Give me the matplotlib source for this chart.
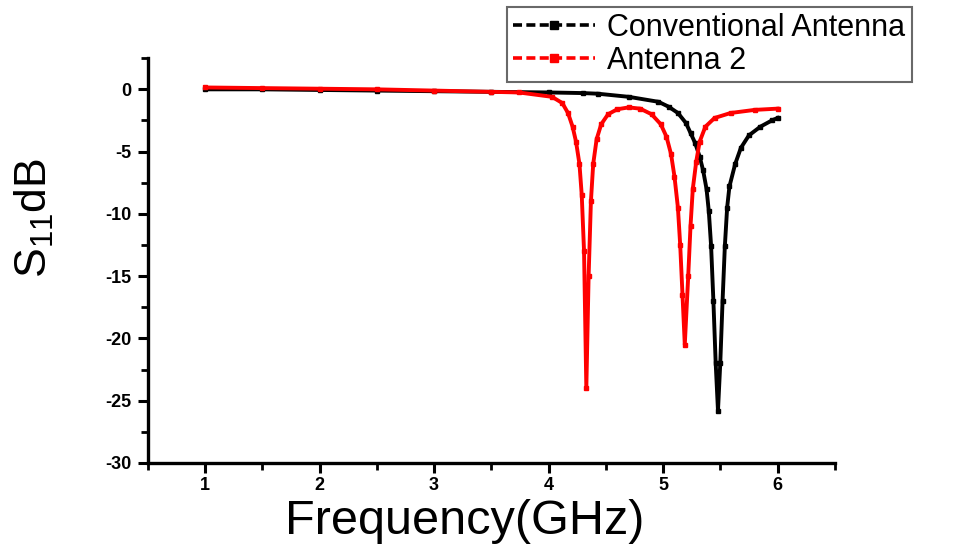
import numpy as np
import matplotlib
matplotlib.use('Agg')
import matplotlib.pyplot as plt
from matplotlib.lines import Line2D
from matplotlib.ticker import MultipleLocator

plt.rcParams['font.family'] = ['Liberation Sans', 'DejaVu Sans']
plt.rcParams['mathtext.fontset'] = 'custom'
plt.rcParams['mathtext.rm'] = 'Liberation Sans'
plt.rcParams['axes.unicode_minus'] = False

# Conventional antenna
f_conv = [1.0, 1.5, 2.0, 2.5, 3.0, 3.5, 4.0, 4.3, 4.43, 4.7, 4.96, 5.05, 5.13, 5.2,
          5.24, 5.28, 5.32, 5.35, 5.38, 5.40, 5.42, 5.44, 5.46, 5.48, 5.50, 5.52,
          5.54, 5.56, 5.58, 5.63, 5.68, 5.75, 5.85, 5.95, 6.0]
s_conv = [0.0, 0.0, -0.05, -0.1, -0.15, -0.2, -0.25, -0.3, -0.35, -0.6, -1.0, -1.4, -1.9, -2.7,
          -3.5, -4.3, -5.4, -6.5, -8.0, -9.8, -12.6, -17.0, -22.0, -25.8, -22.0, -17.0,
          -12.6, -9.5, -7.8, -6.0, -4.7, -3.7, -3.0, -2.5, -2.3]

# Antenna 2
f_ant2 = [1.0, 1.5, 2.0, 2.5, 3.0, 3.5, 3.74, 4.03, 4.12, 4.17, 4.21, 4.24, 4.27, 4.29,
          4.31, 4.33, 4.35, 4.37, 4.39, 4.42, 4.46, 4.52, 4.6, 4.7, 4.8, 4.9, 4.98,
          5.03, 5.07, 5.10, 5.13, 5.15, 5.17, 5.19, 5.22, 5.24, 5.26, 5.29, 5.32,
          5.37, 5.45, 5.59, 5.8, 6.0]
s_ant2 = [0.15, 0.1, 0.05, 0.0, -0.1, -0.2, -0.25, -0.6, -1.1, -1.9, -3.0, -4.2, -6.0, -8.5,
          -13.0, -24.0, -15.0, -9.0, -6.0, -4.0, -2.8, -2.0, -1.6, -1.45, -1.55, -2.0, -2.8,
          -3.8, -5.2, -7.0, -9.5, -12.5, -16.5, -20.5, -15.0, -11.0, -8.0, -5.8, -4.2,
          -3.0, -2.3, -1.9, -1.65, -1.55]

fig = plt.figure(figsize=(9.54, 5.44), dpi=100)
ax = fig.add_axes([0.155, 0.149, 0.72, 0.744])

ax.plot(f_conv, s_conv, color='black', lw=2.8, marker='s', ms=3.5, zorder=3)
ax.plot(f_ant2, s_ant2, color='red', lw=2.8, marker='s', ms=3.5, zorder=4)

ax.set_xlim(0.5, 6.5)
ax.set_ylim(-30, 2.5)
ax.xaxis.set_major_locator(MultipleLocator(1))
ax.xaxis.set_minor_locator(MultipleLocator(0.5))
ax.yaxis.set_major_locator(MultipleLocator(5))
ax.yaxis.set_minor_locator(MultipleLocator(2.5))

for s in ['top', 'right']:
    ax.spines[s].set_visible(False)
for s in ['left', 'bottom']:
    ax.spines[s].set_linewidth(2.4)

ax.tick_params(which='major', direction='out', length=7, width=2.2, labelsize=13, pad=5)
ax.tick_params(axis='x', which='major', pad=3)
ax.tick_params(which='minor', direction='out', length=5, width=2.0)
for lbl in ax.get_xticklabels() + ax.get_yticklabels():
    lbl.set_fontweight('bold')

# etiquetas de ejes como texto de figura
fig.text(0.487, 0.0, 'Frequency(GHz)', fontsize=35, ha='center', va='bottom')
fig.text(0.036, 0.60, r'$\mathregular{S_{11}}$dB', fontsize=32, rotation=90,
         ha='center', va='center')

h1 = Line2D([], [], color='black', lw=2.6, ls=(0, (2.5, 1.2)), marker='s', ms=6)
h2 = Line2D([], [], color='red', lw=2.6, ls=(0, (2.5, 1.2)), marker='s', ms=6)
leg = fig.legend([h1, h2], ['Conventional Antenna', 'Antenna 2'], loc='upper left',
                 bbox_to_anchor=(0.531, 0.988), fontsize=22, frameon=True, fancybox=False,
                 handlelength=2.7, handletextpad=0.4, borderpad=0.2, labelspacing=0.1,
                 borderaxespad=0, numpoints=1)
leg.get_frame().set_edgecolor('#444444')
leg.get_frame().set_linewidth(1.5)

fig.savefig('out.png', dpi=100)
